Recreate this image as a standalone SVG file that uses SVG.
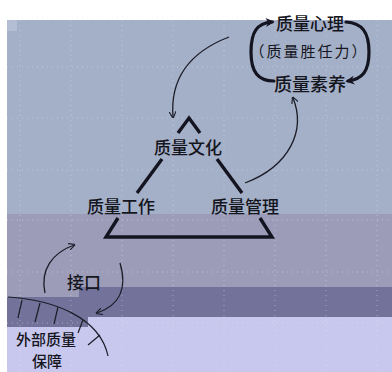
<svg xmlns="http://www.w3.org/2000/svg" width="392" height="372" viewBox="0 0 392 372">
<defs>
<style>
.t{font-family:"Noto Sans CJK SC","Noto Sans",sans-serif;fill:#15151d;text-anchor:middle;font-weight:500}
.grid{stroke:#e4e6ee;stroke-width:1;stroke-dasharray:1 4;opacity:0.45}
.thin{fill:none;stroke:#1c1c28;stroke-width:1.3}
.thick{fill:none;stroke:#141420;stroke-width:3.2;stroke-linecap:round}
.tri{fill:none;stroke:#141420;stroke-width:3.4}
.hatch{fill:none;stroke:#1c1c28;stroke-width:1.2}
</style>
<marker id="ah" viewBox="0 0 10 10" refX="8" refY="5" markerWidth="7" markerHeight="7" orient="auto" markerUnits="userSpaceOnUse">
<path d="M0,0 L10,5 L0,10" fill="none" stroke="#1c1c28" stroke-width="1.6"/>
</marker>
<marker id="ahb" viewBox="0 0 10 10" refX="7" refY="5" markerWidth="9" markerHeight="9" orient="auto" markerUnits="userSpaceOnUse">
<path d="M0,0 L10,5 L0,10 L3,5 Z" fill="#141420"/>
</marker>
</defs>
<g id="background">
<rect x="0" y="0" width="392" height="372" fill="#ffffff"/>
<rect x="7" y="20" width="385" height="195" fill="#a4b0c8"/>
<rect x="7" y="214" width="385" height="74" fill="#9c9cb8"/>
<rect x="7" y="287" width="385" height="31" fill="#72729a"/>
<rect x="7" y="287" width="72" height="10" fill="#9c9cb8"/>
<rect x="7" y="317" width="385" height="55" fill="#c8c8ee"/>
<rect x="7" y="317" width="81" height="10" fill="#72729a"/>
<rect x="7" y="20" width="10" height="11" fill="#b3bdd3"/>
</g>
<g id="grid">
<line class="grid" x1="7" y1="17" x2="392" y2="17"/>
<line class="grid" x1="7" y1="67" x2="392" y2="67"/>
<line class="grid" x1="7" y1="118" x2="392" y2="118"/>
<line class="grid" x1="7" y1="170" x2="392" y2="170"/>
<line class="grid" x1="7" y1="220" x2="392" y2="220"/>
<line class="grid" x1="7" y1="272" x2="392" y2="272"/>
<line class="grid" x1="7" y1="323" x2="392" y2="323"/>
<line class="grid" x1="20" y1="20" x2="20" y2="372"/>
<line class="grid" x1="71" y1="20" x2="71" y2="372"/>
<line class="grid" x1="122" y1="20" x2="122" y2="372"/>
<line class="grid" x1="173" y1="20" x2="173" y2="372"/>
<line class="grid" x1="224" y1="20" x2="224" y2="372"/>
<line class="grid" x1="275" y1="20" x2="275" y2="372"/>
<line class="grid" x1="326" y1="20" x2="326" y2="372"/>
<line class="grid" x1="377" y1="20" x2="377" y2="372"/>
</g>
<g id="connectors">
<path class="thick" d="M274,81 C258,81 251,72 251,52 C251,32 257,23 272,22" marker-end="url(#ahb)"/>
<path class="thick" d="M346,22 C362,23 369,32 369,52 C369,72 362,79 348,81" marker-end="url(#ahb)"/>
<path class="thin" d="M229,37 C190,52 170,78 173,117" marker-end="url(#ah)"/>
<path class="thin" d="M245,183 C290,166 306,130 293,98" marker-end="url(#ah)"/>
<path class="thin" d="M45,293 C40,270 52,253 74,245" marker-end="url(#ah)"/>
<path class="thin" d="M120,263 C128,290 118,306 97,313" marker-end="url(#ah)"/>
</g>
<g id="triangle">
<polyline class="tri" points="178,133 189,118 200,133"/>
<line class="tri" x1="162" y1="159" x2="137" y2="193"/>
<line class="tri" x1="217" y1="159" x2="242" y2="193"/>
<polyline class="tri" points="118,218 106,237 272,237 260,218"/>
</g>
<g id="external">
<path class="hatch" d="M8,297 C55,300 100,318 108,356"/>
<line class="hatch" x1="22" y1="300" x2="18" y2="318"/>
<line class="hatch" x1="40" y1="303" x2="35" y2="322"/>
<line class="hatch" x1="58" y1="307" x2="54" y2="324"/>
<line class="hatch" x1="83" y1="320" x2="78" y2="333"/>
<line class="hatch" x1="100" y1="335" x2="88" y2="345"/>
</g>
<g id="n-psych"><text class="t" x="310" y="30" font-size="17">质量心理</text></g>
<g id="n-comp"><text class="t" x="309" y="57" font-size="15" letter-spacing="2" style="font-weight:400">（质量胜任力）</text></g>
<g id="n-lit"><text class="t" x="310" y="91" font-size="18">质量素养</text></g>
<g id="n-culture"><text class="t" x="188" y="154" font-size="17">质量文化</text></g>
<g id="n-work"><text class="t" x="121" y="213" font-size="17">质量工作</text></g>
<g id="n-mgmt"><text class="t" x="245" y="213" font-size="17">质量管理</text></g>
<g id="n-interface"><text class="t" x="84" y="289" font-size="17">接口</text></g>
<g id="n-external"><text class="t" x="46" y="345" font-size="15">外部质量</text><text class="t" x="47" y="367" font-size="15">保障</text></g>
</svg>
